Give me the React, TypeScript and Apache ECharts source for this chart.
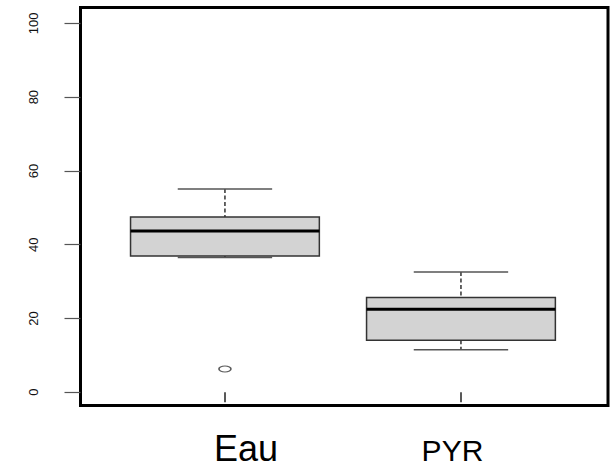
import React, { useEffect, useRef } from "react";
import * as echarts from "echarts";

const categories = ["Eau", "PYR"];
const categoryPositions = [1, 2];
// [lower whisker, Q1, median, Q3, upper whisker]
const boxStats = [
  [36.5, 36.9, 43.7, 47.5, 55.1],
  [11.5, 14.1, 22.5, 25.7, 32.6],
];
const outliers = [[1, 6.3]];
const yTicks = [0, 20, 40, 60, 80, 100];

export default function App() {
  const ref = useRef<HTMLDivElement>(null);
  useEffect(() => {
    const chart = echarts.init(ref.current!, null, { renderer: "svg" });
    const boxData = boxStats.map((s, i) => [categoryPositions[i], ...s]);
    chart.setOption({
      animation: false,
      backgroundColor: "#ffffff",
      grid: {
        left: 80.5,
        right: 8,
        top: 7.5,
        bottom: 63.5,
        show: true,
        borderColor: "#000",
        borderWidth: 3,
        backgroundColor: "transparent",
      },
      xAxis: {
        type: "value",
        min: 0.388,
        max: 2.623,
        axisLine: { show: false },
        splitLine: { show: false },
        axisTick: {
          show: true,
          customValues: categoryPositions,
          length: 10,
          lineStyle: { color: "#222", width: 1.5 },
        },
        axisLabel: {
          customValues: categoryPositions,
          margin: 11,
          formatter: (v: number) => {
            const i = categoryPositions.indexOf(v);
            return i < 0 ? "" : `{c${i}|${categories[i]}}`;
          },
          rich: {
            c0: {
              fontSize: 36,
              fontFamily: "Liberation Sans",
              color: "#000",
              lineHeight: 63,
              padding: [0, 0, 0, 42],
            },
            c1: {
              fontSize: 30,
              fontFamily: "Liberation Sans",
              color: "#000",
              lineHeight: 67,
              padding: [0, 17, 0, 0],
            },
          },
        },
      },
      yAxis: {
        type: "value",
        min: -3.6,
        max: 104.3,
        axisLine: { show: false },
        splitLine: { show: false },
        axisTick: {
          show: true,
          customValues: yTicks,
          length: 16,
          lineStyle: { color: "#555", width: 1.2 },
        },
        axisLabel: {
          customValues: yTicks,
          rotate: 90,
          fontSize: 13,
          color: "#111",
          margin: 41,
          fontFamily: "Liberation Sans",
        },
      },
      series: [
        {
          type: "custom",
          data: boxData,
          encode: { x: 0, y: [1, 2, 3, 4, 5] },
          renderItem: (params: any, api: any) => {
            const x = api.value(0);
            const lo = api.coord([x, api.value(1)]);
            const q1 = api.coord([x, api.value(2)]);
            const med = api.coord([x, api.value(3)]);
            const q3 = api.coord([x, api.value(4)]);
            const hi = api.coord([x, api.value(5)]);
            const boxW = api.size([0.8, 0])[0];
            const capW = boxW / 2;
            const cx = lo[0];
            const dash = { stroke: "#333", lineWidth: 1.5, lineDash: [4, 2.5] };
            const cap = { stroke: "#555", lineWidth: 1.5 };
            return {
              type: "group",
              children: [
                { type: "line", shape: { x1: cx, y1: hi[1], x2: cx, y2: q3[1] }, style: dash },
                { type: "line", shape: { x1: cx, y1: q1[1], x2: cx, y2: lo[1] }, style: dash },
                { type: "line", shape: { x1: cx - capW / 2, y1: hi[1], x2: cx + capW / 2, y2: hi[1] }, style: cap },
                { type: "line", shape: { x1: cx - capW / 2, y1: lo[1], x2: cx + capW / 2, y2: lo[1] }, style: cap },
                {
                  type: "rect",
                  shape: { x: cx - boxW / 2, y: q3[1], width: boxW, height: q1[1] - q3[1] },
                  style: { fill: "#d3d3d3", stroke: "#333", lineWidth: 1.5 },
                },
                {
                  type: "line",
                  shape: { x1: cx - boxW / 2, y1: med[1], x2: cx + boxW / 2, y2: med[1] },
                  style: { stroke: "#000", lineWidth: 3 },
                },
              ],
            };
          },
        },
        {
          type: "scatter",
          data: outliers,
          symbol: "path://M0 5 A5 5 0 1 1 10 5 A5 5 0 1 1 0 5 Z",
          symbolSize: [12, 6],
          itemStyle: { color: "#fff", borderColor: "#333", borderWidth: 1.2 },
        },
      ],
    });
    return () => chart.dispose();
  }, []);
  return (
    <div
      ref={ref}
      style={{ position: "fixed", left: 0, top: 0, width: 616, height: 469, background: "#fff" }}
    />
  );
}
